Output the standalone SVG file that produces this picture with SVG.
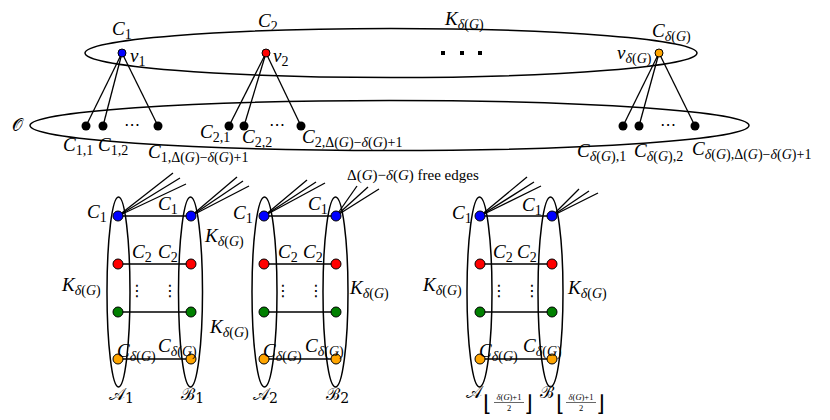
<svg xmlns="http://www.w3.org/2000/svg" width="830" height="420" viewBox="0 0 830 420">
<style>
.ell{fill:none;stroke:#000;stroke-width:1.5}
.e{stroke:#000;stroke-width:1.3;fill:none}
.t{font-family:"Liberation Serif","DejaVu Serif",serif;font-size:19px;fill:#000}
.sc{font-family:"DejaVu Serif","Noto Sans","DejaVu Sans",serif;font-size:17px;fill:#000}
.i{font-style:italic}
.s{font-size:14px}
.f{font-size:15px}
.fr{font-family:"Liberation Serif","DejaVu Serif",serif;font-size:8.5px;fill:#000}
.br{font-family:"DejaVu Sans",sans-serif;font-size:22px;fill:#000}
.dt{font-family:"DejaVu Sans",sans-serif;font-size:16px;fill:#000}
.bk{fill:#000}
.nb{fill:#0000ff;stroke:#000;stroke-width:1}
.nr{fill:#ff0000;stroke:#000;stroke-width:1}
.ng{fill:#008000;stroke:#000;stroke-width:1}
.no{fill:#ffa500;stroke:#000;stroke-width:1}
</style>

<!-- sets -->
<g id="setK"><ellipse class="ell" cx="391" cy="53" rx="306" ry="24.5"/>
<text class="t" x="445" y="25"><tspan class="i">K</tspan><tspan class="s" dy="4"><tspan class="i">δ</tspan>(<tspan class="i">G</tspan>)</tspan></text>
<rect class="bk" x="441" y="51" width="4" height="4"/><rect class="bk" x="460" y="51" width="4" height="4"/><rect class="bk" x="478" y="51" width="4" height="4"/>
</g>
<g id="setO"><ellipse class="ell" cx="389.5" cy="125.5" rx="359.5" ry="25"/>
<text class="sc" x="12" y="131">𝒪</text>
</g>
<g id="setA1"><ellipse class="ell" cx="118.5" cy="292" rx="11.5" ry="95"/><text class="sc" x="109" y="400">𝒜<tspan class="s" dy="3">1</tspan></text></g>
<g id="setB1"><ellipse class="ell" cx="190.5" cy="292" rx="12" ry="95"/><text class="sc" x="181" y="400">ℬ<tspan class="s" dy="3">1</tspan></text></g>
<g id="setA2"><ellipse class="ell" cx="264.5" cy="292" rx="12.5" ry="95"/><text class="sc" x="253" y="400">𝒜<tspan class="s" dy="3">2</tspan></text></g>
<g id="setB2"><ellipse class="ell" cx="335.5" cy="292" rx="12.5" ry="95"/><text class="sc" x="326" y="400">ℬ<tspan class="s" dy="3">2</tspan></text></g>
<g id="setA3"><ellipse class="ell" cx="479.5" cy="292" rx="12.5" ry="95"/>
<text class="sc" x="466" y="398">𝒜</text>
<text class="br" x="483" y="411">⌊</text>
<text class="fr" x="509" y="400" text-anchor="middle"><tspan class="i">δ</tspan>(<tspan class="i">G</tspan>)+1</text>
<line x1="494" y1="402.5" x2="524" y2="402.5" stroke="#000" stroke-width="0.6"/>
<text class="fr" x="509" y="411" text-anchor="middle">2</text>
<text class="br" x="524" y="411">⌋</text>
</g>
<g id="setB3"><ellipse class="ell" cx="550.5" cy="292" rx="12.5" ry="95"/>
<text class="sc" x="540" y="398">ℬ</text>
<text class="br" x="556" y="411">⌊</text>
<text class="fr" x="581" y="400" text-anchor="middle"><tspan class="i">δ</tspan>(<tspan class="i">G</tspan>)+1</text>
<line x1="566" y1="402.5" x2="596" y2="402.5" stroke="#000" stroke-width="0.6"/>
<text class="fr" x="581" y="411" text-anchor="middle">2</text>
<text class="br" x="596" y="411">⌋</text>
</g>

<!-- connectors -->
<g id="connectors" class="e">
<line x1="122" y1="53" x2="86" y2="126"/><line x1="122" y1="53" x2="103" y2="126"/><line x1="122" y1="53" x2="158" y2="126"/>
<line x1="266" y1="53" x2="229" y2="126"/><line x1="266" y1="53" x2="244" y2="126"/><line x1="266" y1="53" x2="301" y2="126"/>
<line x1="659" y1="53" x2="623" y2="126"/><line x1="659" y1="53" x2="639" y2="126"/><line x1="659" y1="53" x2="695" y2="126"/>
<line x1="118" y1="216" x2="191" y2="216"/><line x1="118" y1="264" x2="191" y2="264"/><line x1="118" y1="312" x2="191" y2="312"/><line x1="118" y1="359" x2="191" y2="359"/>
<line x1="264" y1="216" x2="336" y2="216"/><line x1="264" y1="264" x2="336" y2="264"/><line x1="264" y1="312" x2="336" y2="312"/><line x1="264" y1="359" x2="336" y2="359"/>
<line x1="480" y1="216" x2="552" y2="216"/><line x1="480" y1="264" x2="552" y2="264"/><line x1="480" y1="312" x2="552" y2="312"/><line x1="480" y1="359" x2="552" y2="359"/>
<line x1="118" y1="216" x2="173" y2="173"/><line x1="118" y1="216" x2="180" y2="178"/><line x1="118" y1="216" x2="186" y2="184"/>
<line x1="191" y1="216" x2="237" y2="177"/><line x1="191" y1="216" x2="243" y2="181"/><line x1="191" y1="216" x2="249" y2="186"/>
<line x1="264" y1="216" x2="307" y2="180"/><line x1="264" y1="216" x2="316" y2="182"/><line x1="264" y1="216" x2="325" y2="183"/>
<line x1="336" y1="216" x2="357" y2="186"/><line x1="336" y1="216" x2="368" y2="187"/><line x1="336" y1="216" x2="379" y2="189"/>
<line x1="480" y1="216" x2="527" y2="177"/><line x1="480" y1="216" x2="534" y2="182"/><line x1="480" y1="216" x2="541" y2="186"/>
<line x1="552" y1="216" x2="579" y2="189"/><line x1="552" y1="216" x2="589" y2="191"/><line x1="552" y1="216" x2="598" y2="193"/>
</g>

<!-- top nodes -->
<g id="v1"><circle class="nb" cx="122" cy="53" r="4"/>
<text class="t" x="112" y="35"><tspan class="i">C</tspan><tspan class="s" dy="4">1</tspan></text>
<text class="t" x="130" y="62"><tspan class="i">v</tspan><tspan class="s" dy="4">1</tspan></text></g>
<g id="v2"><circle class="nr" cx="266" cy="53" r="4"/>
<text class="t" x="258" y="27"><tspan class="i">C</tspan><tspan class="s" dy="4">2</tspan></text>
<text class="t" x="273" y="62"><tspan class="i">v</tspan><tspan class="s" dy="4">2</tspan></text></g>
<g id="vdG"><circle class="no" cx="659" cy="53" r="4"/>
<text class="t" x="652" y="37"><tspan class="i">C</tspan><tspan class="s" dy="4"><tspan class="i">δ</tspan>(<tspan class="i">G</tspan>)</tspan></text>
<text class="t" x="617" y="59"><tspan class="i">v</tspan><tspan class="s" dy="4"><tspan class="i">δ</tspan>(<tspan class="i">G</tspan>)</tspan></text></g>

<!-- O nodes -->
<g id="c11"><circle class="bk" cx="86" cy="126" r="4.5"/><text class="t" x="63" y="151"><tspan class="i">C</tspan><tspan class="s" dy="4">1,1</tspan></text></g>
<g id="c12"><circle class="bk" cx="103" cy="126" r="4.5"/><text class="t" x="98" y="151"><tspan class="i">C</tspan><tspan class="s" dy="4">1,2</tspan></text></g>
<text class="dt" x="132" y="130" text-anchor="middle">⋯</text>
<g id="c1d"><circle class="bk" cx="158" cy="126" r="4.5"/><text class="t" x="148" y="158"><tspan class="i">C</tspan><tspan class="s" dy="4">1,Δ(<tspan class="i">G</tspan>)−<tspan class="i">δ</tspan>(<tspan class="i">G</tspan>)+1</tspan></text></g>
<g id="c21"><circle class="bk" cx="229" cy="126" r="4.5"/><text class="t" x="200" y="138"><tspan class="i">C</tspan><tspan class="s" dy="4">2,1</tspan></text></g>
<g id="c22"><circle class="bk" cx="244" cy="126" r="4.5"/><text class="t" x="242" y="143"><tspan class="i">C</tspan><tspan class="s" dy="4">2,2</tspan></text></g>
<text class="dt" x="277" y="130" text-anchor="middle">⋯</text>
<g id="c2d"><circle class="bk" cx="301" cy="126" r="4.5"/><text class="t" x="302" y="143"><tspan class="i">C</tspan><tspan class="s" dy="4">2,Δ(<tspan class="i">G</tspan>)−<tspan class="i">δ</tspan>(<tspan class="i">G</tspan>)+1</tspan></text></g>
<g id="cd1"><circle class="bk" cx="623" cy="126" r="4.5"/><text class="t" x="577" y="157"><tspan class="i">C</tspan><tspan class="s" dy="4"><tspan class="i">δ</tspan>(<tspan class="i">G</tspan>),1</tspan></text></g>
<g id="cd2"><circle class="bk" cx="639" cy="126" r="4.5"/><text class="t" x="634" y="157"><tspan class="i">C</tspan><tspan class="s" dy="4"><tspan class="i">δ</tspan>(<tspan class="i">G</tspan>),2</tspan></text></g>
<text class="dt" x="668" y="130" text-anchor="middle">⋯</text>
<g id="cdd"><circle class="bk" cx="695" cy="126" r="4.5"/><text class="t" x="692" y="155"><tspan class="i">C</tspan><tspan class="s" dy="4"><tspan class="i">δ</tspan>(<tspan class="i">G</tspan>),Δ(<tspan class="i">G</tspan>)−<tspan class="i">δ</tspan>(<tspan class="i">G</tspan>)+1</tspan></text></g>

<!-- bottom group 1 -->
<g id="a1_1"><circle class="nb" cx="118" cy="216" r="5"/><text class="t" x="87" y="218"><tspan class="i">C</tspan><tspan class="s" dy="4">1</tspan></text></g>
<g id="a1_2"><circle class="nr" cx="118" cy="264" r="5"/><text class="t" x="132" y="258"><tspan class="i">C</tspan><tspan class="s" dy="4">2</tspan></text></g>
<g id="a1_3"><circle class="ng" cx="118" cy="312" r="5"/></g>
<g id="a1_4"><circle class="no" cx="118" cy="359" r="5"/><text class="t" x="117" y="357"><tspan class="i">C</tspan><tspan class="s" dy="4"><tspan class="i">δ</tspan>(<tspan class="i">G</tspan>)</tspan></text></g>
<g id="b1_1"><circle class="nb" cx="191" cy="216" r="5"/><text class="t" x="158" y="210"><tspan class="i">C</tspan><tspan class="s" dy="4">1</tspan></text></g>
<g id="b1_2"><circle class="nr" cx="191" cy="264" r="5"/><text class="t" x="158" y="258"><tspan class="i">C</tspan><tspan class="s" dy="4">2</tspan></text></g>
<g id="b1_3"><circle class="ng" cx="191" cy="312" r="5"/></g>
<g id="b1_4"><circle class="no" cx="191" cy="359" r="5"/><text class="t" x="158" y="352"><tspan class="i">C</tspan><tspan class="s" dy="4"><tspan class="i">δ</tspan>(<tspan class="i">G</tspan>)</tspan></text></g>
<text class="dt" x="137" y="296" text-anchor="middle">⋮</text>
<text class="dt" x="170" y="296" text-anchor="middle">⋮</text>
<text class="t" x="62" y="291"><tspan class="i">K</tspan><tspan class="s" dy="4"><tspan class="i">δ</tspan>(<tspan class="i">G</tspan>)</tspan></text>
<text class="t" x="205" y="242"><tspan class="i">K</tspan><tspan class="s" dy="4"><tspan class="i">δ</tspan>(<tspan class="i">G</tspan>)</tspan></text>
<text class="t" x="210" y="333"><tspan class="i">K</tspan><tspan class="s" dy="4"><tspan class="i">δ</tspan>(<tspan class="i">G</tspan>)</tspan></text>

<!-- bottom group 2 -->
<g id="a2_1"><circle class="nb" cx="264" cy="216" r="5"/><text class="t" x="233" y="219"><tspan class="i">C</tspan><tspan class="s" dy="4">1</tspan></text></g>
<g id="a2_2"><circle class="nr" cx="264" cy="264" r="5"/><text class="t" x="278" y="258"><tspan class="i">C</tspan><tspan class="s" dy="4">2</tspan></text></g>
<g id="a2_3"><circle class="ng" cx="264" cy="312" r="5"/></g>
<g id="a2_4"><circle class="no" cx="264" cy="359" r="5"/><text class="t" x="263" y="357"><tspan class="i">C</tspan><tspan class="s" dy="4"><tspan class="i">δ</tspan>(<tspan class="i">G</tspan>)</tspan></text></g>
<g id="b2_1"><circle class="nb" cx="336" cy="216" r="5"/><text class="t" x="308" y="210"><tspan class="i">C</tspan><tspan class="s" dy="4">1</tspan></text></g>
<g id="b2_2"><circle class="nr" cx="336" cy="264" r="5"/><text class="t" x="303" y="258"><tspan class="i">C</tspan><tspan class="s" dy="4">2</tspan></text></g>
<g id="b2_3"><circle class="ng" cx="336" cy="312" r="5"/></g>
<g id="b2_4"><circle class="no" cx="336" cy="359" r="5"/><text class="t" x="305" y="352"><tspan class="i">C</tspan><tspan class="s" dy="4"><tspan class="i">δ</tspan>(<tspan class="i">G</tspan>)</tspan></text></g>
<text class="dt" x="283" y="296" text-anchor="middle">⋮</text>
<text class="dt" x="316" y="296" text-anchor="middle">⋮</text>
<text class="t" x="350" y="294"><tspan class="i">K</tspan><tspan class="s" dy="4"><tspan class="i">δ</tspan>(<tspan class="i">G</tspan>)</tspan></text>
<text class="t f" x="347" y="180">Δ(<tspan class="i">G</tspan>)−<tspan class="i">δ</tspan>(<tspan class="i">G</tspan>) free edges</text>

<!-- bottom group 3 -->
<g id="a3_1"><circle class="nb" cx="480" cy="216" r="5"/><text class="t" x="452" y="219"><tspan class="i">C</tspan><tspan class="s" dy="4">1</tspan></text></g>
<g id="a3_2"><circle class="nr" cx="480" cy="264" r="5"/><text class="t" x="493" y="258"><tspan class="i">C</tspan><tspan class="s" dy="4">2</tspan></text></g>
<g id="a3_3"><circle class="ng" cx="480" cy="312" r="5"/></g>
<g id="a3_4"><circle class="no" cx="480" cy="359" r="5"/><text class="t" x="479" y="357"><tspan class="i">C</tspan><tspan class="s" dy="4"><tspan class="i">δ</tspan>(<tspan class="i">G</tspan>)</tspan></text></g>
<g id="b3_1"><circle class="nb" cx="552" cy="216" r="5"/><text class="t" x="522" y="211"><tspan class="i">C</tspan><tspan class="s" dy="4">1</tspan></text></g>
<g id="b3_2"><circle class="nr" cx="552" cy="264" r="5"/><text class="t" x="517" y="258"><tspan class="i">C</tspan><tspan class="s" dy="4">2</tspan></text></g>
<g id="b3_3"><circle class="ng" cx="552" cy="312" r="5"/></g>
<g id="b3_4"><circle class="no" cx="552" cy="359" r="5"/><text class="t" x="523" y="352"><tspan class="i">C</tspan><tspan class="s" dy="4"><tspan class="i">δ</tspan>(<tspan class="i">G</tspan>)</tspan></text></g>
<text class="dt" x="499" y="296" text-anchor="middle">⋮</text>
<text class="dt" x="532" y="296" text-anchor="middle">⋮</text>
<text class="t" x="423" y="291"><tspan class="i">K</tspan><tspan class="s" dy="4"><tspan class="i">δ</tspan>(<tspan class="i">G</tspan>)</tspan></text>
<text class="t" x="568" y="294"><tspan class="i">K</tspan><tspan class="s" dy="4"><tspan class="i">δ</tspan>(<tspan class="i">G</tspan>)</tspan></text>
</svg>
